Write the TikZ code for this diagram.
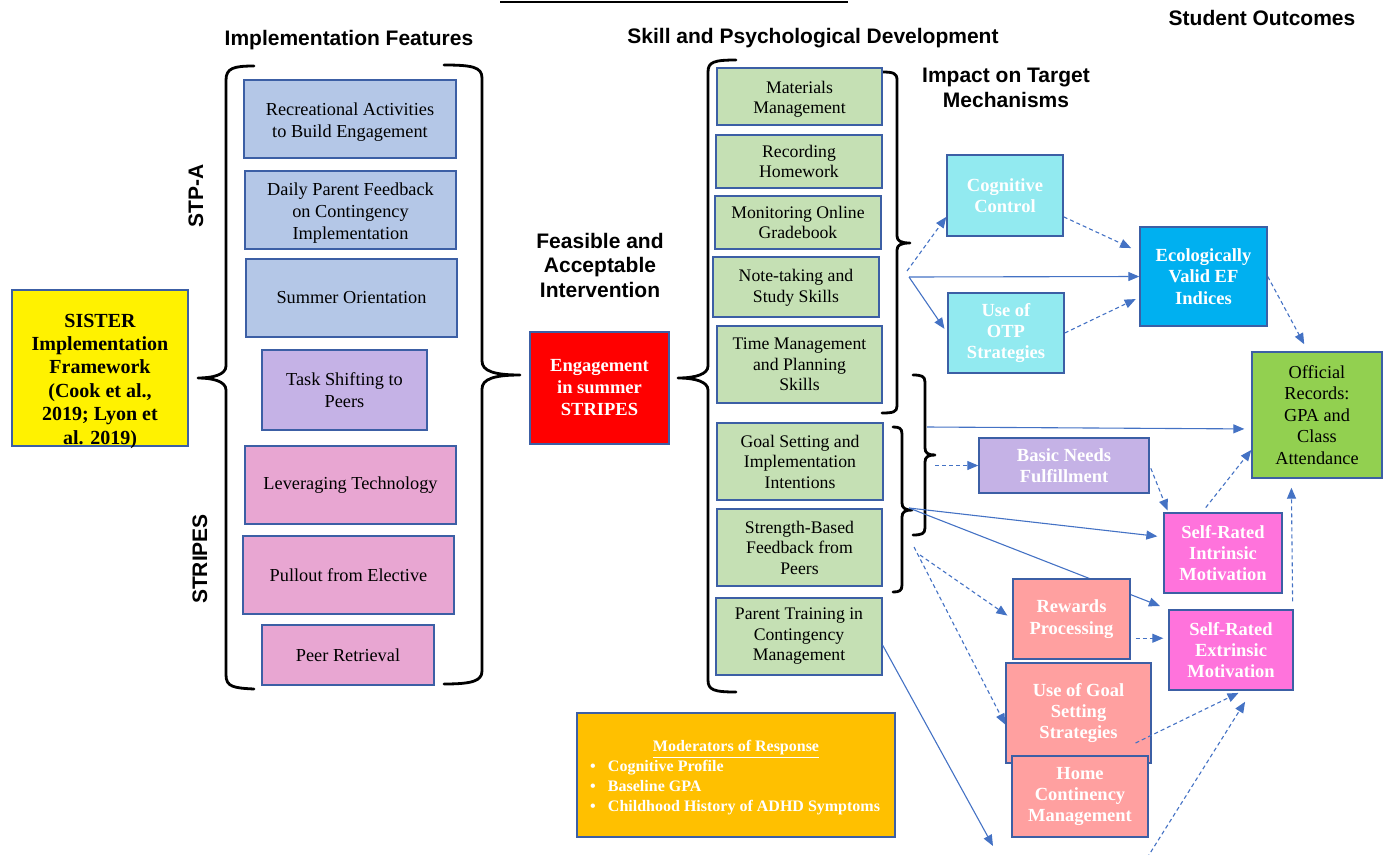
\documentclass[tikz,border=0pt]{standalone}
\usepackage{fontspec}
\setmainfont{Liberation Serif}
\newfontfamily\hsans{Liberation Sans}
\usetikzlibrary{arrows.meta,calc}

\definecolor{bord}{RGB}{60,95,165}
\definecolor{arr}{RGB}{68,114,196}
\definecolor{cblue}{RGB}{180,199,231}
\definecolor{cpurp}{RGB}{197,178,230}
\definecolor{cpink}{RGB}{232,166,210}
\definecolor{cgreen}{RGB}{197,224,180}
\definecolor{ccyan}{RGB}{146,234,240}
\definecolor{ceco}{RGB}{0,176,240}
\definecolor{coff}{RGB}{146,208,80}
\definecolor{cmag}{RGB}{255,115,220}
\definecolor{csal}{RGB}{255,160,160}
\definecolor{corange}{RGB}{255,192,0}

% lower the text of a box by #1 without moving the box
\newcommand{\shtext}[2]{\raisebox{#1}[\height][\depth]{\begin{tabular}{@{}c@{}}#2\end{tabular}}}

\begin{document}
\begin{tikzpicture}[x=1pt,y=-1pt,
  box/.style={draw=bord, line width=1.4pt, inner sep=0pt, align=center},
  lbox/.style={box, font=\fontsize{18.3}{22}\selectfont},
  gbox/.style={box, fill=cgreen, font=\fontsize{17.7}{20.5}\selectfont},
  wbox/.style={box, text=white, font=\bfseries\fontsize{18.5}{21.3}\selectfont},
  hdr/.style={font=\hsans\bfseries\fontsize{21}{24.5}\selectfont, align=center, inner sep=0pt},
  brace/.style={line width=2.8pt, line cap=round, line join=round},
  sarr/.style={draw=arr, color=arr, line width=1.1pt, -{Triangle[length=11pt,width=9pt]}},
  darr/.style={sarr, dash pattern=on 4pt off 3pt},
]
\useasboundingbox (0,0) rectangle (1389,854);

% top rule
\draw[line width=2pt] (500,1.5) -- (848,1.5);

% headers
\node[hdr, anchor=base] (hif) at (349,45) {Implementation Features};
\node[hdr, anchor=base] (hsk) at (813,43) {Skill and Psychological Development};
\node[hdr, anchor=base] (hso) at (1262,25) {Student Outcomes};
\node[hdr] (himp) at (1006,88) {Impact on Target\\Mechanisms};
\node[hdr] (hfea) at (600,265) {Feasible and\\Acceptable\\Intervention};
\node[hdr, rotate=90] (hstp) at (196,196) {STP-A};
\node[hdr, rotate=90] (hstr) at (200,559) {STRIPES};

% braces
\draw[brace] (254,66) .. controls (234,66) and (226,68) .. (226,80) -- (226,366) .. controls (226,375) and (212,378) .. (198,378) .. controls (212,378) and (226,381) .. (226,390) -- (226,675) .. controls (226,687) and (234,688) .. (254,689);
\draw[brace] (444,65) .. controls (472,65) and (482,67) .. (482,78) -- (482,361) .. controls (482,371) and (494,375) .. (520,375) .. controls (494,375) and (482,379) .. (482,389) -- (482,671) .. controls (482,681) and (472,684) .. (444,684);
\draw[brace] (736,60) .. controls (714,60) and (708,62) .. (708,72) -- (708,366) .. controls (708,374) and (696,378) .. (678,378) .. controls (696,378) and (708,382) .. (708,390) -- (708,680) .. controls (708,690) and (714,692) .. (736,692);
\draw[brace] (882,72) .. controls (893,72) and (897,73) .. (897,80) -- (897,236) .. controls (897,241) and (901,243) .. (910,243) .. controls (901,243) and (897,245) .. (897,250) -- (897,406) .. controls (897,412) and (893,413) .. (882,413);
\draw[brace] (913,375) .. controls (921,375) and (925,376) .. (925,382) -- (925,448) .. controls (925,453) and (928,455) .. (935,455) .. controls (928,455) and (925,457) .. (925,462) -- (925,528) .. controls (925,534) and (921,535) .. (913,535);
\draw[brace] (893,427) .. controls (899,427) and (902,428) .. (902,434) -- (902,503) .. controls (902,508) and (905,510) .. (912,510) .. controls (905,510) and (902,512) .. (902,517) -- (902,585) .. controls (902,591) and (899,592) .. (893,592);

% free ends of connectors
\coordinate (s1) at (907,271);
\coordinate (s2) at (909,277);
\coordinate (s3) at (927,427);
\coordinate (s4) at (935,465.5);
\coordinate (s5) at (909,508);
\coordinate (s6) at (920,555);
\coordinate (s7) at (914,547);
\coordinate (e1) at (993,846);
\coordinate (e2) at (1147,858);

% left column
\node[lbox, fill=cblue, minimum width=212pt, minimum height=78pt] (rec) at (350,119) {\shtext{-3pt}{Recreational Activities\\to Build Engagement}};
\node[lbox, fill=cblue, minimum width=211pt, minimum height=78pt] (dpf) at (350.5,210) {\shtext{-3pt}{Daily Parent Feedback\\on Contingency\\Implementation}};
\node[lbox, fill=cblue, minimum width=211pt, minimum height=78pt] (sor) at (351.5,298) {Summer Orientation};
\node[lbox, fill=cpurp, minimum width=165pt, minimum height=80pt] (tsp) at (344.5,390) {\shtext{-2pt}{Task Shifting to\\Peers}};
\node[lbox, fill=cpink, minimum width=211pt, minimum height=78pt] (lev) at (350.5,485) {Leveraging Technology};
\node[lbox, fill=cpink, minimum width=211pt, minimum height=78pt] (pul) at (348.5,575) {Pullout from Elective};
\node[lbox, fill=cpink, minimum width=172pt, minimum height=60pt] (per) at (348,655) {Peer Retrieval};

% sister and engagement
\node[box, fill=yellow, minimum width=176pt, minimum height=156pt, font=\bfseries\fontsize{20}{23.4}\selectfont] (sis) at (100,368) {\shtext{-13pt}{SISTER\\Implementation\\Framework\\(Cook et al.,\\2019; Lyon et\\al. 2019)}};
\node[box, fill=red, text=white, minimum width=139pt, minimum height=112pt, font=\bfseries\fontsize{18.5}{22}\selectfont] (eng) at (599.5,388) {Engagement\\in summer\\STRIPES};

% green column
\node[gbox, minimum width=165pt, minimum height=57pt] (mat) at (799.5,96.5) {\shtext{-3pt}{Materials\\Management}};
\node[gbox, minimum width=166pt, minimum height=53pt] (rho) at (799,161.5) {\shtext{-2pt}{Recording\\Homework}};
\node[gbox, minimum width=166pt, minimum height=53pt] (mog) at (798,222.5) {\shtext{-2pt}{Monitoring Online\\Gradebook}};
\node[gbox, minimum width=166pt, minimum height=60pt] (nts) at (796,287) {\shtext{-1pt}{Note-taking and\\Study Skills}};
\node[gbox, minimum width=165pt, minimum height=77pt] (tmp) at (799.5,364.5) {Time Management\\and Planning\\Skills};
\node[gbox, minimum width=166pt, minimum height=77pt] (gsi) at (800,461.5) {Goal Setting and\\Implementation\\Intentions};
\node[gbox, minimum width=165pt, minimum height=77pt] (sbf) at (799.5,547.5) {Strength-Based\\Feedback from\\Peers};
\node[gbox, minimum width=166pt, minimum height=77pt] (pt) at (799,636.5) {Parent Training in\\Contingency\\Management};

% moderators
\node[box, fill=corange, text=white, minimum width=318pt, minimum height=124pt, font=\bfseries\fontsize{16}{20}\selectfont] (mod) at (736,775) {\raisebox{-3pt}[\height][\depth]{\begin{minipage}{300pt}\centering\underline{Moderators of Response}\par\raggedright
\hspace*{4pt}\makebox[18pt][l]{\textbullet}Cognitive Profile\par
\hspace*{4pt}\makebox[18pt][l]{\textbullet}Baseline GPA\par
\hspace*{4pt}\makebox[18pt][l]{\textbullet}Childhood History of ADHD Symptoms\end{minipage}}};

% right side node places (boxes drawn after the connectors)
\path (1005,195.5) node[box, minimum width=116pt, minimum height=81pt, draw=none] (cc) {}
      (1006,333) node[box, minimum width=116pt, minimum height=80pt, draw=none] (otp) {}
      (1203.5,276.5) node[box, minimum width=127pt, minimum height=99pt, draw=none] (eco) {}
      (1317,415) node[box, minimum width=130pt, minimum height=126pt, draw=none] (off) {}
      (1064,465.5) node[box, minimum width=170pt, minimum height=55pt, draw=none] (bn) {}
      (1223,553) node[box, minimum width=118pt, minimum height=80pt, draw=none] (intr) {}
      (1071.5,619) node[box, minimum width=117pt, minimum height=80pt, draw=none] (rw) {}
      (1231,650) node[box, minimum width=124pt, minimum height=80pt, draw=none] (ext) {}
      (1078.5,713) node[box, minimum width=145pt, minimum height=100pt, draw=none] (ug) {};

% connectors under boxes
\draw[darr] (s1) -- (cc.200);
\draw[sarr] (s2) -- (eco.west);
\draw[sarr, shorten >=5pt] (s2) -- (otp.west);
\draw[darr, shorten >=9pt] (cc.-20) -- (eco.159);
\draw[darr, shorten >=4pt] (otp.east) -- (eco.198);
\draw[darr, shorten >=8pt] (eco.east) -- ($(off.north)+(-9,0)$);
\draw[sarr, shorten >=7pt] (s3) -- (off.192);
\draw[darr] (s4) -- (bn.west);
\draw[sarr, shorten >=6pt] (s5) -- (intr.165);
\draw[sarr, shorten >=9pt] (s5) -- (ext.north west);
\draw[darr, shorten <=3pt, shorten >=2pt] (bn.east) -- ($(intr.north west)+(5,0)$);
\draw[darr, shorten <=6pt] ($(intr.north)+(-21,0)$) -- (off.208);
\draw[darr, shorten <=8pt, shorten >=9pt] ($(ext.north east)+(-1,0)$) -- ($(off.south west)+(40,0)$);
\draw[darr, shorten >=6pt] (s6) -- (rw.west);
\draw[darr] (s7) -- (ug.189);
\draw[sarr] (pt.-6) -- (e1);
\draw[darr, shorten <=5pt, shorten >=5pt] (rw.-18) -- (rw.-18 -| ext.west);

% right boxes
\node[wbox, fill=ccyan, minimum width=116pt, minimum height=81pt] at (cc) {Cognitive\\Control};
\node[wbox, fill=ccyan, minimum width=116pt, minimum height=80pt] at (otp) {Use of\\OTP\\Strategies};
\node[wbox, fill=ceco, minimum width=127pt, minimum height=99pt] at (eco) {Ecologically\\Valid EF\\Indices};
\node[box, fill=coff, minimum width=130pt, minimum height=126pt, font=\fontsize{18.3}{21.5}\selectfont] at (off) {Official\\Records:\\GPA and\\Class\\Attendance};
\node[wbox, fill=cpurp, minimum width=170pt, minimum height=55pt] at (bn) {Basic Needs\\Fulfillment};
\node[wbox, fill=cmag, minimum width=118pt, minimum height=80pt] at (intr) {Self-Rated\\Intrinsic\\Motivation};
\node[wbox, fill=csal, minimum width=117pt, minimum height=80pt] at (rw) {Rewards\\Processing};
\node[wbox, fill=cmag, minimum width=124pt, minimum height=80pt] at (ext) {Self-Rated\\Extrinsic\\Motivation};
\node[wbox, fill=csal, minimum width=145pt, minimum height=100pt] at (ug) {Use of Goal\\Setting\\Strategies};
\node[wbox, fill=csal, minimum width=136pt, minimum height=81pt] (home) at (1080,796.5) {Home\\Continency\\Management};

% connectors over boxes
\draw[darr, shorten >=5pt] ($(ug.center)+(57,30)$) -- ($(ext.south)+(12,0)$);
\draw[darr, shorten >=13pt] (e2) -- ($(ext.south)+(21,0)$);

\end{tikzpicture}
\end{document}
